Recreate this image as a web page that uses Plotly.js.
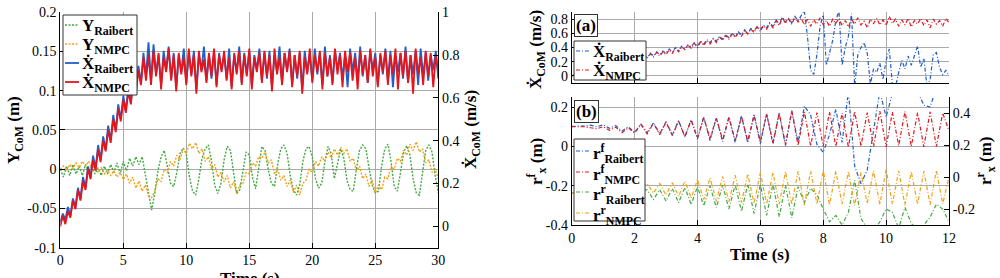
<!DOCTYPE html>
<html>
<head>
<meta charset="utf-8">
<script src="https://cdn.plot.ly/plotly-3.0.1.min.js"></script>
<style>
html,body{margin:0;padding:0;background:#fff;}
#chart{width:1000px;height:278px;}
</style>
</head>
<body>
<div id="chart"></div>
<script>
// ---------------- DATA ----------------
// Left panel: sampling of the traces (s)
const leftXdotStart = 0, leftXdotStep = 0.2;
const leftYStart = 0, leftYStep = 0.25;

// Left panel, CoM forward velocity (m/s), right axis
const leftXdotRaibert = [
0.02,0.06,0.03,0.09,0.05,0.13,0.09,0.18,0.13,0.23,0.18,0.28,0.23,0.33,0.27,0.38,0.31,0.42,0.36,0.47,0.40,0.52,0.45,0.57,0.50,0.61,0.54,0.65,0.58,0.70,0.63,0.75,0.67,0.81,0.70,
0.86,0.68,0.85,0.71,0.80,0.66,0.82,0.73,0.84,0.69,
0.81,0.65,0.80,0.72,0.83,0.67,0.81,0.71,0.82,0.64,
0.80,0.73,0.84,0.68,0.80,0.69,0.82,0.66,0.81,0.73,
0.80,0.69,0.83,0.65,0.80,0.72,0.84,0.67,0.81,0.71,
0.82,0.66,0.80,0.73,0.83,0.68,0.81,0.69,0.82,0.65,
0.80,0.72,0.84,0.67,0.81,0.73,0.83,0.66,0.80,0.69,
0.81,0.64,0.82,0.72,0.80,0.68,0.83,0.71,0.81,0.66,
0.84,0.70,0.80,0.67,0.82,0.73,0.81,0.69,0.80,0.65,
0.83,0.72,0.81,0.68,0.84,0.70,0.80,0.67,0.82,0.73,
0.81,0.66,0.80,0.71,0.83,0.68,0.82,0.65,0.80,0.72,
0.81,0.69,0.84,0.67,0.80,0.71,0.82,0.66,0.83,0.70,
0.81,0.68,0.80,0.73,0.82,0.69];
const leftXdotNmpc = [
0.00,0.05,0.01,0.07,0.04,0.12,0.08,0.17,0.12,0.21,0.17,0.27,0.22,0.31,0.26,0.36,0.30,0.40,0.35,0.45,0.39,0.50,0.44,0.55,0.49,0.59,0.53,0.63,0.57,0.68,0.62,0.73,0.66,0.79,0.68,
0.80,0.66,0.82,0.70,0.81,0.64,0.79,0.72,0.83,0.68,
0.80,0.63,0.81,0.71,0.79,0.66,0.83,0.70,0.80,0.62,
0.82,0.72,0.78,0.67,0.81,0.70,0.83,0.65,0.80,0.72,
0.82,0.68,0.79,0.64,0.81,0.71,0.82,0.66,0.80,0.70,
0.83,0.64,0.79,0.72,0.81,0.67,0.82,0.70,0.80,0.63,
0.83,0.71,0.79,0.66,0.81,0.72,0.82,0.65,0.80,0.70,
0.82,0.62,0.79,0.71,0.83,0.67,0.80,0.72,0.82,0.64,
0.81,0.70,0.79,0.66,0.83,0.71,0.80,0.65,0.82,0.72,
0.81,0.68,0.79,0.64,0.82,0.71,0.80,0.67,0.83,0.70,
0.79,0.65,0.81,0.72,0.82,0.66,0.80,0.71,0.83,0.64,
0.81,0.70,0.82,0.67,0.80,0.62,0.83,0.71,0.79,0.66,
0.82,0.70,0.81,0.65,0.80,0.72];

// Left panel, CoM lateral position (m), left axis
const leftYRaibert = [
0.000,-0.010,0.004,-0.008,0.006,-0.006,0.004,-0.008,0.006,-0.004,
0.005,-0.006,0.002,-0.008,0.004,-0.006,0.006,-0.004,0.008,-0.006,
0.010,-0.002,0.014,0.004,0.016,0.006,0.016,-0.010,-0.030,-0.052,
-0.030,-0.002,0.016,0.024,0.004,-0.018,-0.022,-0.004,0.020,0.027,
0.020,-0.010,-0.028,-0.033,-0.012,0.014,0.026,0.031,0.010,-0.020,
-0.031,-0.018,0.012,0.029,0.024,-0.004,-0.031,-0.026,0.000,0.022,
0.018,-0.010,-0.025,0.004,0.029,0.024,0.000,-0.018,-0.022,0.006,
0.026,0.031,0.020,-0.008,-0.026,-0.033,-0.020,0.010,0.026,0.029,
0.016,-0.012,-0.024,-0.018,0.010,0.029,0.020,-0.012,0.006,0.026,
0.014,-0.014,-0.026,-0.028,0.000,0.024,0.031,0.026,0.002,-0.020,
-0.030,-0.028,0.004,0.026,0.032,0.010,-0.022,-0.028,-0.004,0.022,
0.030,0.018,-0.012,-0.030,-0.033,-0.004,0.024,0.031,0.022,-0.008,
-0.030];
const leftYNmpc = [
0.000,0.004,-0.002,0.006,0.001,0.008,0.002,0.010,0.004,0.010,
0.000,0.006,-0.004,0.002,-0.006,-0.001,-0.008,-0.002,-0.010,-0.004,
-0.013,-0.006,-0.018,-0.010,-0.024,-0.015,-0.028,-0.020,-0.034,-0.036,
-0.028,-0.012,-0.016,0.000,-0.004,0.010,0.004,0.018,0.012,0.026,
0.020,0.033,0.026,0.034,0.020,0.026,0.010,0.016,0.000,0.006,
-0.010,-0.004,-0.016,-0.008,-0.024,-0.016,-0.031,-0.020,-0.018,-0.004,
-0.006,0.008,0.004,0.016,0.014,0.022,0.008,0.012,-0.006,0.000,
-0.014,-0.008,-0.022,-0.014,-0.030,-0.020,-0.033,-0.018,-0.014,0.000,
-0.004,0.010,0.004,0.016,0.010,0.022,0.014,0.026,0.018,0.028,
0.020,0.026,0.010,0.014,-0.002,0.004,-0.012,-0.006,-0.022,-0.014,
-0.030,-0.020,-0.026,-0.010,-0.012,0.004,0.000,0.014,0.010,0.024,
0.018,0.032,0.024,0.035,0.022,0.026,0.008,0.012,-0.004,0.000,
-0.012];

// Panel (a): forward velocity (m/s), sampled every 0.1 s
const aStart = 0, aStep = 0.1;
const aXdotRaibert = [
0.00,0.02,0.02,0.05,0.04,0.08,0.05,0.10,0.08,0.13,
0.10,0.15,0.12,0.18,0.14,0.20,0.16,0.22,0.19,0.24,
0.21,0.27,0.23,0.30,0.26,0.32,0.28,0.34,0.30,0.35,
0.32,0.38,0.33,0.40,0.36,0.42,0.38,0.44,0.41,0.47,
0.42,0.49,0.45,0.51,0.47,0.53,0.49,0.56,0.52,0.58,
0.54,0.60,0.56,0.62,0.58,0.65,0.60,0.67,0.63,0.70,
0.65,0.72,0.68,0.75,0.70,0.79,0.73,0.83,0.76,0.81,
0.75,0.84,0.78,0.86,0.92,0.55,0.08,0.02,0.30,0.70,
0.86,0.15,0.32,0.50,0.78,0.92,0.15,0.40,0.56,0.88,
-0.15,0.30,0.40,0.47,0.32,-0.12,0.10,0.05,0.18,-0.05,
0.22,0.38,-0.12,-0.15,0.05,0.22,0.10,0.28,0.15,0.30,
0.42,0.12,0.25,-0.15,-0.05,0.30,0.33,0.12,0.02,0.08,
0.00];
const aXdotNmpc = [
0.00,0.02,0.01,0.05,0.03,0.07,0.05,0.10,0.07,0.12,
0.09,0.15,0.11,0.17,0.13,0.19,0.16,0.21,0.18,0.24,
0.20,0.26,0.22,0.29,0.25,0.31,0.27,0.33,0.28,0.34,
0.30,0.37,0.32,0.39,0.34,0.41,0.37,0.43,0.39,0.46,
0.40,0.48,0.43,0.50,0.45,0.52,0.47,0.55,0.50,0.57,
0.52,0.59,0.54,0.61,0.56,0.64,0.59,0.66,0.61,0.69,
0.63,0.71,0.66,0.74,0.68,0.78,0.71,0.82,0.74,0.80,
0.73,0.83,0.76,0.81,0.72,0.80,0.70,0.79,0.73,0.82,
0.72,0.78,0.70,0.80,0.74,0.81,0.71,0.78,0.69,0.80,
0.73,0.82,0.72,0.77,0.68,0.80,0.74,0.81,0.72,0.79,
0.71,0.84,0.74,0.80,0.70,0.79,0.72,0.81,0.69,0.78,
0.73,0.81,0.71,0.79,0.68,0.80,0.73,0.78,0.70,0.81,
0.75];

// Panel (b): foot positions (m), sampled every 0.2 s
const bStart = 0, bStep = 0.2;
const bFrontRaibert = [
0.102,0.102,0.104,0.108,0.100,0.110,0.092,0.106,0.078,0.100,
0.072,0.114,0.070,0.120,0.064,0.126,0.058,0.132,0.048,0.136,
0.038,0.150,0.030,0.146,0.024,0.150,0.020,0.156,0.018,0.162,
0.014,0.166,0.012,0.170,0.004,0.182,0.020,0.205,0.160,0.010,
-0.030,0.060,0.190,0.020,0.280,-0.100,-0.190,-0.120,0.080,0.280,
0.150,0.270,0.300,0.320,0.300,0.280,0.210,0.200,0.300,0.320,
0.300];
const bFrontNmpc = [
0.100,0.100,0.100,0.095,0.090,0.100,0.082,0.098,0.070,0.095,
0.068,0.112,0.064,0.118,0.060,0.124,0.055,0.128,0.050,0.134,
0.042,0.148,0.038,0.144,0.034,0.148,0.030,0.152,0.026,0.160,
0.022,0.166,0.018,0.168,0.010,0.180,0.005,0.176,0.002,0.172,
0.000,0.176,0.000,0.170,-0.004,0.178,0.002,0.172,0.000,0.180,
-0.002,0.174,0.004,0.178,0.000,0.172,-0.002,0.176,0.000,0.170,
0.080];
const bRearRaibert = [
-0.100,-0.100,-0.100,-0.100,-0.098,-0.095,-0.090,-0.092,-0.088,-0.090,
-0.085,-0.080,-0.080,-0.140,-0.078,-0.150,-0.072,-0.160,-0.065,-0.172,
-0.060,-0.180,-0.055,-0.190,-0.050,-0.200,-0.048,-0.215,-0.045,-0.228,
-0.045,-0.240,-0.042,-0.248,-0.050,-0.255,-0.060,-0.160,-0.070,-0.110,
-0.200,-0.280,-0.240,-0.300,-0.220,-0.020,-0.260,-0.320,-0.340,-0.280,
-0.200,-0.220,-0.320,-0.190,-0.290,-0.330,-0.300,-0.250,-0.170,-0.200,
-0.280];
const bRearNmpc = [
-0.100,-0.100,-0.100,-0.100,-0.098,-0.095,-0.090,-0.090,-0.085,-0.085,
-0.080,-0.070,-0.040,-0.100,-0.040,-0.112,-0.035,-0.120,-0.025,-0.132,
-0.015,-0.140,-0.005,-0.150,0.005,-0.155,0.012,-0.160,0.020,-0.165,
0.028,-0.168,0.030,-0.170,0.035,-0.172,0.038,-0.175,0.040,-0.170,
0.042,-0.175,0.038,-0.168,0.035,-0.178,0.030,-0.165,0.040,-0.172,
0.048,-0.170,0.040,-0.175,0.035,-0.170,0.038,-0.172,0.042,-0.168,
0.000];

// Tick values and labels
const leftTimeTicks = [0,5,10,15,20,25,30];
const leftTimeLabels = ['0','5','10','15','20','25','30'];
const leftYTicks = [-0.1,-0.05,0,0.05,0.1,0.15,0.2];
const leftYLabels = ['-0.1','-0.05','0','0.05','0.1','0.15','0.2'];
const leftVTicks = [0,0.2,0.4,0.6,0.8,1];
const leftVLabels = ['0','0.2','0.4','0.6','0.8','1'];
const rightTimeTicks = [0,2,4,6,8,10,12];
const rightTimeLabels = ['0','2','4','6','8','10','12'];
const aVTicks = [0,0.2,0.4,0.6,0.8];
const aVLabels = ['0','0.2','0.4','0.6','0.8'];
const bFrontTicks = [-0.4,-0.2,0,0.2];
const bFrontLabels = ['-0.4','-0.2','0','0.2'];
const bRearTicks = [-0.2,0,0.2,0.4];
const bRearLabels = ['-0.2','0','0.2','0.4'];

// ---------------- DRAWING ----------------
function times(start, step, n){ const t=[]; for(let i=0;i<n;i++) t.push(+(start+i*step).toFixed(4)); return t; }

const FONT = 'Liberation Serif';
const W = 1000, H = 278;
const px = v => v / W;          // pixel -> paper x
const py = v => 1 - v / H;      // pixel -> paper y
const C = {red:'#e3161e', blue:'#1f5fc8', green:'#43a843', orange:'#f2a114'};
const DASHDOT = '4px,2px,1px,2px';
const DOTTED = '2px,1.5px';

const traces = [
  {x:times(leftYStart,leftYStep,leftYRaibert.length), y:leftYRaibert, xaxis:'x', yaxis:'y', name:'<b>Y<sub>Raibert</sub></b>', mode:'lines', line:{color:C.green,width:1.4,dash:DOTTED}, grp:0},
  {x:times(leftYStart,leftYStep,leftYNmpc.length), y:leftYNmpc, xaxis:'x', yaxis:'y', name:'<b>Y<sub>NMPC</sub></b>', mode:'lines', line:{color:C.orange,width:1.4,dash:DOTTED}, grp:0},
  {x:times(leftXdotStart,leftXdotStep,leftXdotRaibert.length), y:leftXdotRaibert, xaxis:'x', yaxis:'y2', name:'<b>Ẋ<sub>Raibert</sub></b>', mode:'lines', line:{color:C.blue,width:1.8}, grp:0},
  {x:times(leftXdotStart,leftXdotStep,leftXdotNmpc.length), y:leftXdotNmpc, xaxis:'x', yaxis:'y2', name:'<b>Ẋ<sub>NMPC</sub></b>', mode:'lines', line:{color:C.red,width:1.8}, grp:0},

  {x:times(aStart,aStep,aXdotRaibert.length), y:aXdotRaibert, xaxis:'x2', yaxis:'y3', name:'<b>Ẋ<sub>Raibert</sub></b>', mode:'lines', line:{color:C.blue,width:1.2,dash:DASHDOT}, grp:1},
  {x:times(aStart,aStep,aXdotNmpc.length), y:aXdotNmpc, xaxis:'x2', yaxis:'y3', name:'<b>Ẋ<sub>NMPC</sub></b>', mode:'lines', line:{color:C.red,width:1.2,dash:DASHDOT}, grp:1},

  {x:times(bStart,bStep,bFrontRaibert.length), y:bFrontRaibert, xaxis:'x3', yaxis:'y4', name:'<b>r<sup>f</sup><sub>Raibert</sub></b>', mode:'lines', line:{color:C.blue,width:1.2,dash:DASHDOT}, grp:2},
  {x:times(bStart,bStep,bFrontNmpc.length), y:bFrontNmpc, xaxis:'x3', yaxis:'y4', name:'<b>r<sup>f</sup><sub>NMPC</sub></b>', mode:'lines', line:{color:C.red,width:1.2,dash:DASHDOT}, grp:2},
  {x:times(bStart,bStep,bRearRaibert.length), y:bRearRaibert, xaxis:'x3', yaxis:'y5', name:'<b>r<sup>r</sup><sub>Raibert</sub></b>', mode:'lines', line:{color:C.green,width:1.2,dash:DASHDOT}, grp:2},
  {x:times(bStart,bStep,bRearNmpc.length), y:bRearNmpc, xaxis:'x3', yaxis:'y5', name:'<b>r<sup>r</sup><sub>NMPC</sub></b>', mode:'lines', line:{color:C.orange,width:1.2,dash:DASHDOT}, grp:2}
];

const tickfont = {family:FONT, size:14, color:'#000'};
const titleFont = {family:FONT, size:17, color:'#000'};
function ax(extra){
  return Object.assign({
    showline:true, linecolor:'#000', linewidth:1,
    ticks:'inside', ticklen:5, tickcolor:'#000', tickwidth:1,
    showgrid:true, gridcolor:'#aaaaaa', gridwidth:1,
    zeroline:false, tickfont:tickfont, automargin:false, tickmode:'array', fixedrange:true
  }, extra);
}

// legend boxes (pixel layout), built from the trace list
const legendBoxes = [
  {box:[63,15,137,95], rows:[25,44,63,82], sx:[65,79], tx:80},
  {box:[574,41,646,80], rows:[51,70], sx:[576,590], tx:591},
  {box:[574,139,645,221], rows:[151,172,192,213], sx:[576,590], tx:591}
];
const shapes = [];
const annotations = [];
legendBoxes.forEach((lb, g) => {
  shapes.push({type:'rect', xref:'paper', yref:'paper', x0:px(lb.box[0]), x1:px(lb.box[2]), y0:py(lb.box[1]), y1:py(lb.box[3]),
    fillcolor:'#fff', line:{color:'#333', width:1}, layer:'above'});
  traces.filter(t => t.grp === g).forEach((t, i) => {
    const yy = lb.rows[i];
    shapes.push({type:'line', xref:'paper', yref:'paper', x0:px(lb.sx[0]), x1:px(lb.sx[1]), y0:py(yy), y1:py(yy),
      line:{color:t.line.color, width:t.line.width, dash:t.line.dash || 'solid'}, layer:'above'});
    annotations.push({xref:'paper', yref:'paper', x:px(lb.tx), y:py(yy+2), xanchor:'left', yanchor:'middle',
      text:t.name, showarrow:false, font:{family:FONT, size:17, color:'#000'}});
  });
});
traces.forEach(t => { t.showlegend = false; delete t.grp; });

// panel tags
[['<b>(a)</b>', 574, 14], ['<b>(b)</b>', 574, 100]].forEach(([txt, x, y]) => {
  annotations.push({xref:'paper', yref:'paper', x:px(x), y:py(y), xanchor:'left', yanchor:'top', text:txt, showarrow:false,
    font:{family:FONT, size:17, color:'#000'}, bgcolor:'#fff', bordercolor:'#333', borderwidth:1, borderpad:1});
});

// axis titles
[
  ['<b>Time (s)</b>', 250, 278, 0],
  ['<b>Y<sub>CoM</sub> (m)</b>', 15, 130, -90],
  ['<b>Ẋ<sub>CoM</sub> (m/s)</b>', 472, 130, -90],
  ['<b>Ẋ<sub>CoM</sub> (m/s)</b>', 537, 50, -90],
  ['<b>r<sup>f</sup><sub>x</sub> (m)</b>', 536, 162, -90],
  ['<b>r<sup>r</sup><sub>x</sub> (m)</b>', 985, 161, -90],
  ['<b>Time (s)</b>', 760, 254, 0]
].forEach(([txt, x, y, ang]) => {
  annotations.push({xref:'paper', yref:'paper', x:px(x), y:py(y), xanchor:'center', yanchor:'middle', text:txt,
    textangle:ang, showarrow:false, font:titleFont});
});

const layout = {
  width:W, height:H,
  margin:{l:0,r:0,t:0,b:0},
  paper_bgcolor:'#fff', plot_bgcolor:'#fff',
  font:{family:FONT, color:'#000'},
  showlegend:false,
  xaxis: ax({domain:[0.0603,0.4383], anchor:'y', range:[0,30], tickvals:leftTimeTicks, ticktext:leftTimeLabels}),
  yaxis: ax({domain:[0.109,0.9558], anchor:'x', range:[-0.1,0.2], tickvals:leftYTicks, ticktext:leftYLabels}),
  yaxis2: ax({overlaying:'y', side:'right', anchor:'x', range:[-0.1,1], tickvals:leftVTicks, ticktext:leftVLabels, showgrid:false}),

  xaxis2: ax({domain:[0.5717,0.949], anchor:'y3', range:[0,12], tickvals:rightTimeTicks, ticktext:rightTimeLabels, showticklabels:false}),
  yaxis3: ax({domain:[0.7014,0.9565], anchor:'x2', range:[-0.1,0.9], tickvals:aVTicks, ticktext:aVLabels}),

  xaxis3: ax({domain:[0.5717,0.949], anchor:'y4', range:[0,12], tickvals:rightTimeTicks, ticktext:rightTimeLabels}),
  yaxis4: ax({domain:[0.1906,0.65], anchor:'x3', range:[-0.4,0.25], tickvals:bFrontTicks, ticktext:bFrontLabels}),
  yaxis5: ax({overlaying:'y4', side:'right', anchor:'x3', range:[-0.3,0.5], tickvals:bRearTicks, ticktext:bRearLabels, showgrid:false}),

  shapes: shapes,
  annotations: annotations
};

Plotly.newPlot('chart', traces, layout, {displayModeBar:false, staticPlot:true});
</script>
</body>
</html>
